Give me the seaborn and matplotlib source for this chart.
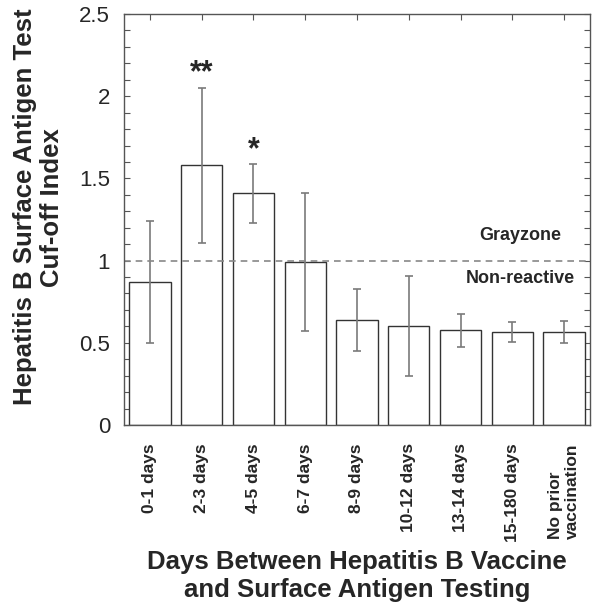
import matplotlib
matplotlib.use("Agg")
import matplotlib.pyplot as plt
import seaborn as sns
import pandas as pd
from matplotlib.ticker import MultipleLocator, FuncFormatter

# data
categories = ["0-1 days", "2-3 days", "4-5 days", "6-7 days", "8-9 days",
              "10-12 days", "13-14 days", "15-180 days", "No prior\nvaccination"]
means = [0.87, 1.58, 1.41, 0.99, 0.64, 0.60, 0.575, 0.565, 0.565]
errs = [0.37, 0.47, 0.18, 0.42, 0.19, 0.305, 0.10, 0.06, 0.067]
stars = {1: ("**", 2.14), 2: ("*", 1.67)}

sns.set_style("white")
plt.rcParams["font.family"] = ["Liberation Sans", "DejaVu Sans"]

df = pd.DataFrame({"group": categories, "value": means})

fig = plt.figure(figsize=(6.0, 6.13), dpi=100)
ax = fig.add_axes([0.2067, 0.3067, 0.7766, 0.6705])

sns.barplot(data=df, x="group", y="value", order=categories, color="white",
            edgecolor="#333333", linewidth=1.0, width=0.8, ax=ax)
xs = ax.get_xticks()
ax.errorbar(xs, means, yerr=errs, fmt="none", ecolor="#7a7a7a",
            elinewidth=1.2, capsize=3, capthick=1.2)

ax.axhline(1.0, color="#888888", linestyle=(0, (4, 3)), linewidth=1.2)
ax.text(7.15, 1.15, "Grayzone", ha="center", va="center",
        fontsize=13, fontweight="bold")
ax.text(7.15, 0.89, "Non-reactive", ha="center", va="center",
        fontsize=13, fontweight="bold")
for i, (s, y) in stars.items():
    ax.text(xs[i], y, s, ha="center", va="center", fontsize=22,
            fontweight="bold")

ax.set_xlim(-0.5, 8.5)
ax.set_ylim(0, 2.5)
ax.yaxis.set_major_locator(MultipleLocator(0.5))
ax.yaxis.set_minor_locator(MultipleLocator(0.1))
ax.yaxis.set_major_formatter(FuncFormatter(lambda v, p: f"{v:g}"))
ax.tick_params(axis="y", which="both", direction="in", left=True, right=True,
               length=4, width=0.8, color="#555555", labelsize=16, pad=10)
ax.tick_params(axis="x", direction="in", bottom=True, top=True, length=4,
               width=0.8, color="#555555", labelsize=12.5, pad=13)
for lab in ax.get_xticklabels():
    lab.set_rotation(90)
    lab.set_fontweight("bold")
    lab.set_va("top")
    lab.set_ha("center")
    lab.set_multialignment("left")

for sp in ax.spines.values():
    sp.set_color("#555555")
    sp.set_linewidth(1.0)

ax.set_xlabel("Days Between Hepatitis B Vaccine\nand Surface Antigen Testing",
              fontsize=18.5, fontweight="bold", labelpad=6)
ax.set_ylabel("Hepatitis B Surface Antigen Test\nCuf-off Index",
              fontsize=18.5, fontweight="bold")
ax.yaxis.set_label_coords(-0.128, 0.53)

fig.savefig("out.png", dpi=100)
